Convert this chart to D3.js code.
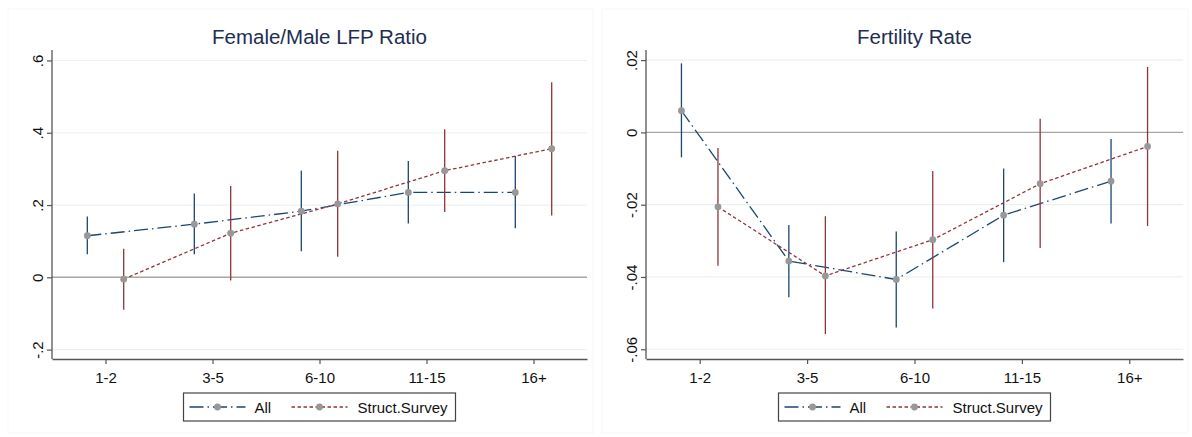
<!DOCTYPE html>
<html>
<head>
<meta charset="utf-8">
<script src="https://cdn.jsdelivr.net/npm/d3@7"></script>
<style>
  body { margin: 0; background: #fff; }
  svg { font-family: "Liberation Sans", Arial, sans-serif; }
</style>
</head>
<body>
<div id="chart"></div>
<script>
// categories (years since ...)
var categories = ['1-2', '3-5', '6-10', '11-15', '16+'];

// Female/Male LFP ratio
var lfpAll   = [0.115, 0.147, 0.183, 0.235, 0.235];
var lfpAllLo = [0.064, 0.064, 0.072, 0.149, 0.136];
var lfpAllHi = [0.168, 0.232, 0.295, 0.322, 0.336];
var lfpSS    = [-0.005, 0.122, 0.203, 0.295, 0.356];
var lfpSSLo  = [-0.090, -0.009, 0.057, 0.181, 0.171];
var lfpSSHi  = [0.079, 0.253, 0.350, 0.410, 0.540];
var lfpTicks = [-0.2, 0, 0.2, 0.4, 0.6];

// Fertility rate
var fertAll   = [0.0060, -0.0356, -0.0407, -0.0229, -0.0135];
var fertAllLo = [-0.0069, -0.0456, -0.0540, -0.0359, -0.0252];
var fertAllHi = [0.0191, -0.0256, -0.0274, -0.0100, -0.0018];
var fertSS    = [-0.0206, -0.0397, -0.0297, -0.0142, -0.0039];
var fertSSLo  = [-0.0369, -0.0558, -0.0487, -0.0320, -0.0259];
var fertSSHi  = [-0.0043, -0.0232, -0.0107, 0.0038, 0.0181];
var fertTicks = [-0.06, -0.04, -0.02, 0, 0.02];

var width = 1192, height = 437;
var blue = '#1a476f', red = '#90353b', markerGray = '#989898';
var offset = 0.17;

var svg = d3.select('#chart').append('svg')
    .attr('width', width)
    .attr('height', height);

// stata style number labels: .2, -.06, 0
function stataFmt(v) {
    if (Math.abs(v) < 1e-9) return '0';
    var s = String(+v.toFixed(4));
    return s.replace('0.', '.');
}

function makeSeries(vals, lo, hi) {
    return vals.map(function (v, i) { return { i: i + 1, v: v, lo: lo[i], hi: hi[i] }; });
}

function drawPanel(opts) {
    var g = svg.append('g');

    // faint graph region border
    g.append('rect')
        .attr('x', opts.box[0]).attr('y', 9)
        .attr('width', opts.box[1] - opts.box[0]).attr('height', 424)
        .attr('fill', 'none').attr('stroke', '#f6f7f8');

    var x = d3.scaleLinear().domain([0.5, 5.5]).range([opts.left, opts.right]);
    var y = d3.scaleLinear().domain(opts.yDomain).range([359, 50]);

    // grid lines
    g.append('g').selectAll('line')
        .data(opts.ticks.filter(function (t) { return t !== 0; }))
        .join('line')
        .attr('x1', opts.left).attr('x2', opts.right)
        .attr('y1', function (d) { return y(d); })
        .attr('y2', function (d) { return y(d); })
        .attr('stroke', '#eaf1f2')
        .attr('stroke-width', 1.2);

    // zero reference line
    g.append('line')
        .attr('x1', opts.left).attr('x2', opts.right)
        .attr('y1', y(0)).attr('y2', y(0))
        .attr('stroke', '#a6a6a6')
        .attr('stroke-width', 1.4);

    // y axis
    var yAxis = g.append('g')
        .attr('transform', 'translate(' + opts.left + ',0)')
        .call(d3.axisLeft(y).tickValues(opts.ticks).tickFormat(stataFmt).tickSize(5).tickSizeOuter(0));
    yAxis.selectAll('text')
        .attr('x', null).attr('dy', null)
        .attr('text-anchor', 'middle')
        .attr('transform', 'translate(-9.5,0) rotate(-90)')
        .attr('font-size', 15)
        .attr('fill', '#111');

    // x axis
    var xAxis = g.append('g')
        .attr('transform', 'translate(0,359)')
        .call(d3.axisBottom(x).tickValues([1, 2, 3, 4, 5])
            .tickFormat(function (d) { return categories[d - 1]; })
            .tickSize(5).tickSizeOuter(0));
    xAxis.selectAll('text')
        .attr('y', 13)
        .attr('font-size', 15)
        .attr('fill', '#111');

    [yAxis, xAxis].forEach(function (a) {
        a.select('.domain').attr('stroke', '#555').attr('stroke-width', 1.3);
        a.selectAll('.tick line').attr('stroke', '#555').attr('stroke-width', 1.2);
        a.selectAll('text').attr('font-family', '"Liberation Sans", Arial, sans-serif');
    });
    yAxis.select('.domain').attr('d', 'M0,' + 50 + 'V359');

    var series = [
        { data: makeSeries(opts.all, opts.allLo, opts.allHi), dx: -offset, color: blue, dash: '14,4,1.5,4' },
        { data: makeSeries(opts.ss, opts.ssLo, opts.ssHi), dx: offset, color: red, dash: '3.5,2.5' }
    ];

    var line = d3.line()
        .x(function (d) { return x(d.i + d.dx); })
        .y(function (d) { return y(d.v); });

    series.forEach(function (s) {
        s.data.forEach(function (d) { d.dx = s.dx; });

        // confidence intervals
        g.append('g').selectAll('line')
            .data(s.data)
            .join('line')
            .attr('x1', function (d) { return x(d.i + s.dx); })
            .attr('x2', function (d) { return x(d.i + s.dx); })
            .attr('y1', function (d) { return y(d.lo); })
            .attr('y2', function (d) { return y(d.hi); })
            .attr('stroke', s.color)
            .attr('stroke-width', 1.3);

        g.append('path')
            .datum(s.data)
            .attr('d', line)
            .attr('fill', 'none')
            .attr('stroke', s.color)
            .attr('stroke-width', 1.3)
            .attr('stroke-dasharray', s.dash);
    });

    series.forEach(function (s) {
        g.append('g').selectAll('circle')
            .data(s.data)
            .join('circle')
            .attr('cx', function (d) { return x(d.i + s.dx); })
            .attr('cy', function (d) { return y(d.v); })
            .attr('r', 3.4)
            .attr('fill', markerGray);
    });

    // title
    g.append('text')
        .attr('x', (opts.left + opts.right) / 2)
        .attr('y', 44)
        .attr('text-anchor', 'middle')
        .attr('font-size', 20.5)
        .attr('fill', '#1e2d50')
        .text(opts.title);

    // legend
    var cx = (opts.left + opts.right) / 2;
    var lg = g.append('g').attr('transform', 'translate(' + (cx - 136) + ',393)');
    lg.append('rect')
        .attr('width', 272).attr('height', 28)
        .attr('fill', '#fff')
        .attr('stroke', '#444').attr('stroke-width', 1.2);
    var items = [
        { label: 'All', x0: 6, color: blue, dash: '14,4,1.5,4', tx: 71 },
        { label: 'Struct.Survey', x0: 108, color: red, dash: '3.5,2.5', tx: 174 }
    ];
    items.forEach(function (it) {
        lg.append('line')
            .attr('x1', it.x0).attr('x2', it.x0 + 56)
            .attr('y1', 14).attr('y2', 14)
            .attr('stroke', it.color).attr('stroke-width', 1.3)
            .attr('stroke-dasharray', it.dash);
        lg.append('circle')
            .attr('cx', it.x0 + 28).attr('cy', 14).attr('r', 3.4)
            .attr('fill', markerGray);
        lg.append('text')
            .attr('x', it.tx).attr('y', 19.5)
            .attr('font-size', 15)
            .attr('fill', '#111')
            .text(it.label);
    });
}

drawPanel({
    title: 'Female/Male LFP Ratio',
    box: [8, 593], left: 52, right: 587,
    yDomain: [-0.226, 0.629], ticks: lfpTicks,
    all: lfpAll, allLo: lfpAllLo, allHi: lfpAllHi,
    ss: lfpSS, ssLo: lfpSSLo, ssHi: lfpSSHi
});

drawPanel({
    title: 'Fertility Rate',
    box: [602, 1188], left: 646, right: 1183,
    yDomain: [-0.0627, 0.0228], ticks: fertTicks,
    all: fertAll, allLo: fertAllLo, allHi: fertAllHi,
    ss: fertSS, ssLo: fertSSLo, ssHi: fertSSHi
});
</script>
</body>
</html>
